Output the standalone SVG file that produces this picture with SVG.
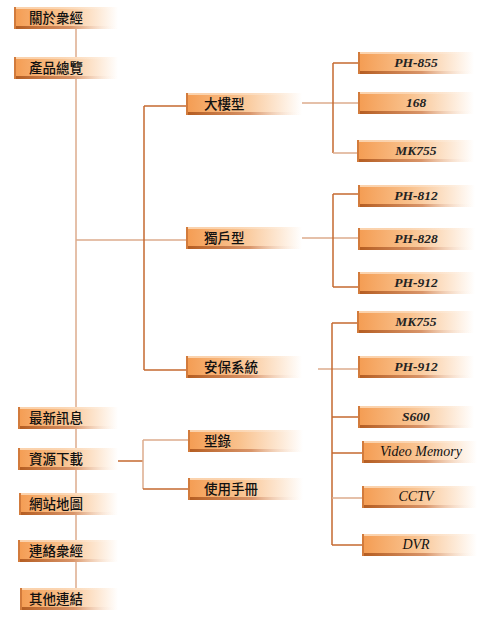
<svg xmlns="http://www.w3.org/2000/svg" width="489" height="624" viewBox="0 0 489 624">
<defs>
<linearGradient id="g" x1="0" y1="0" x2="1" y2="0">
<stop offset="0" stop-color="#f49c52"/>
<stop offset="0.45" stop-color="#f9c28e"/>
<stop offset="0.8" stop-color="#fde8d4"/>
<stop offset="1" stop-color="#ffffff"/>
</linearGradient>
<linearGradient id="s" x1="0" y1="0" x2="1" y2="0">
<stop offset="0" stop-color="#b45c20"/>
<stop offset="0.55" stop-color="#d9956a"/>
<stop offset="1" stop-color="#ffffff" stop-opacity="0"/>
</linearGradient>
<linearGradient id="t" x1="0" y1="0" x2="1" y2="0">
<stop offset="0" stop-color="#fbd3ad"/>
<stop offset="1" stop-color="#ffffff" stop-opacity="0"/>
</linearGradient>
</defs>
<style>
.b{fill:url(#g)}
.sh{fill:url(#s)}
.hl{fill:url(#t)}
.le{fill:#d27b3c}
.cj{font-family:"Noto Sans CJK TC","Noto Sans CJK SC",sans-serif;font-size:13.5px;font-weight:500;fill:#111}
.en{font-family:"Liberation Serif",serif;font-size:13.5px;font-style:italic;font-weight:bold;fill:#222;text-anchor:middle}
.en2{font-family:"Liberation Serif",serif;font-size:14px;font-style:italic;fill:#111;text-anchor:middle}
.l1{stroke:#dcab8c;stroke-width:1.5;fill:none}
.l2{stroke:#c4692f;stroke-width:1.5;fill:none}
</style>
<g id="connectors">
<line class="l1" x1="76" y1="29" x2="76" y2="590"/>
<line class="l1" x1="76" y1="240" x2="187" y2="240"/>
<line class="l2" x1="144" y1="106" x2="144" y2="370"/>
<line class="l2" x1="144" y1="106" x2="187" y2="106"/>
<line class="l2" x1="144" y1="370" x2="187" y2="370"/>
<line class="l1" x1="302" y1="103" x2="358" y2="103"/>
<line class="l2" x1="333" y1="63" x2="333" y2="153"/>
<line class="l2" x1="333" y1="63" x2="358" y2="63"/>
<line class="l1" x1="333" y1="153" x2="358" y2="153"/>
<line class="l1" x1="302" y1="238" x2="358" y2="238"/>
<line class="l2" x1="333" y1="194" x2="333" y2="287"/>
<line class="l2" x1="333" y1="194" x2="358" y2="194"/>
<line class="l2" x1="333" y1="287" x2="358" y2="287"/>
<line class="l1" x1="318" y1="369" x2="358" y2="369"/>
<line class="l2" x1="332" y1="323" x2="332" y2="545"/>
<line class="l2" x1="332" y1="323" x2="358" y2="323"/>
<line class="l2" x1="332" y1="417" x2="358" y2="417"/>
<line class="l2" x1="332" y1="453" x2="363" y2="453"/>
<line class="l1" x1="332" y1="498" x2="363" y2="498"/>
<line class="l2" x1="332" y1="545" x2="363" y2="545"/>
<line class="l2" x1="118" y1="461" x2="143" y2="461"/>
<line class="l1" x1="143" y1="440" x2="143" y2="489"/>
<line class="l1" x1="143" y1="440" x2="189" y2="440"/>
<line class="l2" x1="143" y1="489" x2="189" y2="489"/>
</g>
<g id="n-about"><rect class="b" x="14" y="7" width="104" height="22"/><rect class="hl" x="14" y="7" width="104" height="2"/><rect class="sh" x="14" y="26" width="104" height="3"/><rect class="le" x="14" y="7" width="2" height="22"/><text class="cj" x="29" y="23">關於衆經</text></g>
<g id="n-products"><rect class="b" x="14" y="57" width="104" height="22"/><rect class="hl" x="14" y="57" width="104" height="2"/><rect class="sh" x="14" y="76" width="104" height="3"/><rect class="le" x="14" y="57" width="2" height="22"/><text class="cj" x="29" y="73">產品總覽</text></g>
<g id="n-news"><rect class="b" x="18" y="407" width="100" height="22"/><rect class="hl" x="18" y="407" width="100" height="2"/><rect class="sh" x="18" y="426" width="100" height="3"/><rect class="le" x="18" y="407" width="2" height="22"/><text class="cj" x="29" y="423">最新訊息</text></g>
<g id="n-download"><rect class="b" x="18" y="448" width="100" height="22"/><rect class="hl" x="18" y="448" width="100" height="2"/><rect class="sh" x="18" y="467" width="100" height="3"/><rect class="le" x="18" y="448" width="2" height="22"/><text class="cj" x="29" y="464">資源下載</text></g>
<g id="n-sitemap"><rect class="b" x="19" y="493" width="99" height="22"/><rect class="hl" x="19" y="493" width="99" height="2"/><rect class="sh" x="19" y="512" width="99" height="3"/><rect class="le" x="19" y="493" width="2" height="22"/><text class="cj" x="29" y="509">網站地圖</text></g>
<g id="n-contact"><rect class="b" x="18" y="540" width="100" height="22"/><rect class="hl" x="18" y="540" width="100" height="2"/><rect class="sh" x="18" y="559" width="100" height="3"/><rect class="le" x="18" y="540" width="2" height="22"/><text class="cj" x="29" y="556">連絡衆經</text></g>
<g id="n-links"><rect class="b" x="20" y="588" width="98" height="22"/><rect class="hl" x="20" y="588" width="98" height="2"/><rect class="sh" x="20" y="607" width="98" height="3"/><rect class="le" x="20" y="588" width="2" height="22"/><text class="cj" x="29" y="604">其他連結</text></g>
<g id="n-building"><rect class="b" x="186" y="93" width="116" height="22"/><rect class="hl" x="186" y="93" width="116" height="2"/><rect class="sh" x="186" y="112" width="116" height="3"/><rect class="le" x="186" y="93" width="2" height="22"/><text class="cj" x="204" y="109">大樓型</text></g>
<g id="n-house"><rect class="b" x="186" y="227" width="116" height="22"/><rect class="hl" x="186" y="227" width="116" height="2"/><rect class="sh" x="186" y="246" width="116" height="3"/><rect class="le" x="186" y="227" width="2" height="22"/><text class="cj" x="204" y="243">獨戶型</text></g>
<g id="n-security"><rect class="b" x="186" y="356" width="116" height="22"/><rect class="hl" x="186" y="356" width="116" height="2"/><rect class="sh" x="186" y="375" width="116" height="3"/><rect class="le" x="186" y="356" width="2" height="22"/><text class="cj" x="204" y="372">安保系統</text></g>
<g id="n-catalog"><rect class="b" x="188" y="430" width="115" height="22"/><rect class="hl" x="188" y="430" width="115" height="2"/><rect class="sh" x="188" y="449" width="115" height="3"/><rect class="le" x="188" y="430" width="2" height="22"/><text class="cj" x="204" y="446">型錄</text></g>
<g id="n-manual"><rect class="b" x="188" y="478" width="115" height="22"/><rect class="hl" x="188" y="478" width="115" height="2"/><rect class="sh" x="188" y="497" width="115" height="3"/><rect class="le" x="188" y="478" width="2" height="22"/><text class="cj" x="204" y="494">使用手冊</text></g>
<g id="n-ph855"><rect class="b" x="358" y="52" width="116" height="22"/><rect class="hl" x="358" y="52" width="116" height="2"/><rect class="sh" x="358" y="71" width="116" height="3"/><rect class="le" x="358" y="52" width="2" height="22"/><text class="en" x="416" y="67">PH-855</text></g>
<g id="n-168"><rect class="b" x="358" y="92" width="116" height="22"/><rect class="hl" x="358" y="92" width="116" height="2"/><rect class="sh" x="358" y="111" width="116" height="3"/><rect class="le" x="358" y="92" width="2" height="22"/><text class="en" x="416" y="107">168</text></g>
<g id="n-mk755a"><rect class="b" x="357" y="140" width="117" height="22"/><rect class="hl" x="357" y="140" width="117" height="2"/><rect class="sh" x="357" y="159" width="117" height="3"/><rect class="le" x="357" y="140" width="2" height="22"/><text class="en" x="416" y="155">MK755</text></g>
<g id="n-ph812"><rect class="b" x="358" y="185" width="117" height="22"/><rect class="hl" x="358" y="185" width="117" height="2"/><rect class="sh" x="358" y="204" width="117" height="3"/><rect class="le" x="358" y="185" width="2" height="22"/><text class="en" x="416" y="200">PH-812</text></g>
<g id="n-ph828"><rect class="b" x="358" y="228" width="117" height="22"/><rect class="hl" x="358" y="228" width="117" height="2"/><rect class="sh" x="358" y="247" width="117" height="3"/><rect class="le" x="358" y="228" width="2" height="22"/><text class="en" x="416" y="243">PH-828</text></g>
<g id="n-ph912a"><rect class="b" x="358" y="272" width="117" height="22"/><rect class="hl" x="358" y="272" width="117" height="2"/><rect class="sh" x="358" y="291" width="117" height="3"/><rect class="le" x="358" y="272" width="2" height="22"/><text class="en" x="416" y="287">PH-912</text></g>
<g id="n-mk755b"><rect class="b" x="357" y="311" width="117" height="22"/><rect class="hl" x="357" y="311" width="117" height="2"/><rect class="sh" x="357" y="330" width="117" height="3"/><rect class="le" x="357" y="311" width="2" height="22"/><text class="en" x="416" y="326">MK755</text></g>
<g id="n-ph912b"><rect class="b" x="358" y="356" width="116" height="22"/><rect class="hl" x="358" y="356" width="116" height="2"/><rect class="sh" x="358" y="375" width="116" height="3"/><rect class="le" x="358" y="356" width="2" height="22"/><text class="en" x="416" y="371">PH-912</text></g>
<g id="n-s600"><rect class="b" x="358" y="406" width="116" height="22"/><rect class="hl" x="358" y="406" width="116" height="2"/><rect class="sh" x="358" y="425" width="116" height="3"/><rect class="le" x="358" y="406" width="2" height="22"/><text class="en" x="416" y="421">S600</text></g>
<g id="n-video"><rect class="b" x="362" y="441" width="115" height="22"/><rect class="hl" x="362" y="441" width="115" height="2"/><rect class="sh" x="362" y="460" width="115" height="3"/><rect class="le" x="362" y="441" width="2" height="22"/><text class="en2" x="421" y="456">Video Memory</text></g>
<g id="n-cctv"><rect class="b" x="362" y="486" width="115" height="22"/><rect class="hl" x="362" y="486" width="115" height="2"/><rect class="sh" x="362" y="505" width="115" height="3"/><rect class="le" x="362" y="486" width="2" height="22"/><text class="en2" x="416" y="501">CCTV</text></g>
<g id="n-dvr"><rect class="b" x="362" y="534" width="115" height="22"/><rect class="hl" x="362" y="534" width="115" height="2"/><rect class="sh" x="362" y="553" width="115" height="3"/><rect class="le" x="362" y="534" width="2" height="22"/><text class="en2" x="416" y="549">DVR</text></g>
</svg>
